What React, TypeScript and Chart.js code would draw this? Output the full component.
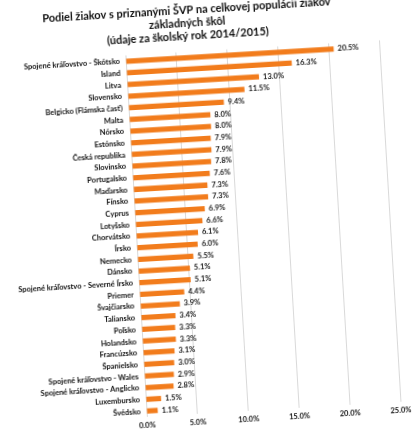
import React, { useEffect, useRef } from "react";
import { Chart, registerables } from "chart.js";

Chart.register(...registerables);

const titleLines = [
  "Podiel žiakov s priznanými ŠVP na celkovej populácii žiakov",
  "základných škôl",
  "(údaje za školský rok 2014/2015)",
];

const categories = [
  "Spojené kráľovstvo - Škótsko",
  "Island",
  "Litva",
  "Slovensko",
  "Belgicko (Flámska časť)",
  "Malta",
  "Nórsko",
  "Estónsko",
  "Česká republika",
  "Slovinsko",
  "Portugalsko",
  "Maďarsko",
  "Fínsko",
  "Cyprus",
  "Lotyšsko",
  "Chorvátsko",
  "Írsko",
  "Nemecko",
  "Dánsko",
  "Spojené kráľovstvo - Severné Írsko",
  "Priemer",
  "Švajčiarsko",
  "Taliansko",
  "Poľsko",
  "Holandsko",
  "Francúzsko",
  "Španielsko",
  "Spojené kráľovstvo - Wales",
  "Spojené kráľovstvo - Anglicko",
  "Luxembursko",
  "Švédsko",
];

const values = [
  20.5, 16.3, 13.0, 11.5, 9.4, 8.0, 8.0, 7.9, 7.9, 7.8, 7.6, 7.3, 7.3, 6.9,
  6.6, 6.1, 6.0, 5.5, 5.1, 5.1, 4.4, 3.9, 3.4, 3.3, 3.3, 3.1, 3.0, 2.9, 2.8,
  1.5, 1.1,
];

const xMin = 0;
const xMax = 25;
const xStep = 5;

const FONT = "Lato, 'Open Sans', sans-serif";

const valueLabels = {
  id: "valueLabels",
  afterDatasetsDraw(chart: any) {
    const ctx = chart.ctx;
    const meta = chart.getDatasetMeta(0);
    ctx.save();
    ctx.font = `bold 7.5px ${FONT}`;
    ctx.fillStyle = "#1a1a1a";
    ctx.textAlign = "left";
    ctx.textBaseline = "middle";
    meta.data.forEach((el: any, i: number) => {
      ctx.fillText(values[i].toFixed(1) + "%", el.x + 4, el.y);
    });
    ctx.restore();
  },
};

export default function App() {
  const ref = useRef<HTMLCanvasElement | null>(null);

  useEffect(() => {
    if (!ref.current) return;
    const chart = new Chart(ref.current, {
      type: "bar",
      data: {
        labels: categories,
        datasets: [
          {
            data: values,
            backgroundColor: "#F27C1C",
            barPercentage: 0.45,
            categoryPercentage: 1,
          },
        ],
      },
      options: {
        indexAxis: "y",
        animation: false,
        responsive: false,
        layout: { padding: { left: 8, right: 23, top: 0, bottom: 0 } },
        plugins: {
          legend: { display: false },
          tooltip: { enabled: false },
          title: {
            display: true,
            text: titleLines,
            color: "#111",
            font: { family: FONT, size: 11, weight: "bold", lineHeight: 1.18 },
            padding: { top: 3, bottom: 9 },
          },
        },
        scales: {
          x: {
            min: xMin,
            max: xMax,
            ticks: {
              stepSize: xStep,
              color: "#111",
              font: { family: FONT, size: 7.5, weight: "bold" },
              padding: 4,
              callback: (v: any) => Number(v).toFixed(1) + "%",
            },
            grid: { color: "#d9d9d9", drawTicks: false },
            border: { display: false },
            afterFit: (s: any) => {
              s.height = 16;
            },
          },
          y: {
            ticks: {
              color: "#111",
              font: { family: FONT, size: 7.5, weight: "bold" },
              padding: 6,
              autoSkip: false,
            },
            grid: { display: false, drawTicks: false },
            border: { display: false },
            afterFit: (s: any) => {
              s.width = 127;
            },
          },
        },
      },
      plugins: [valueLabels],
    });
    return () => chart.destroy();
  }, []);

  return (
    <div
      style={{
        position: "absolute",
        left: 0,
        top: 0,
        width: 412,
        height: 429,
        background: "#fff",
        transform: "rotate(-3.4deg)",
        transformOrigin: "50% 50%",
      }}
    >
      <canvas ref={ref} width={412} height={429} />
    </div>
  );
}
